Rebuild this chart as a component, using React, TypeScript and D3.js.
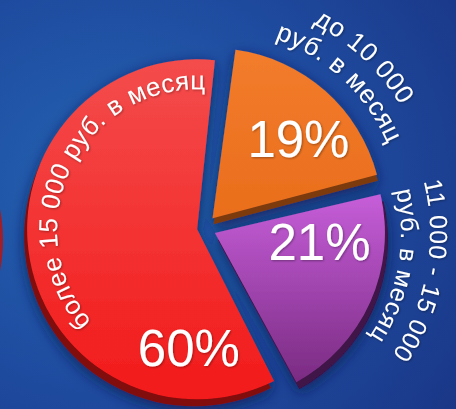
import React from 'react';
import * as d3 from 'd3';

// ---- data ----
const categories = ['до 10 000 руб. в месяц', '11 000 - 15 000 руб. в месяц', 'более 15 000 руб. в месяц'];
const values = [19, 21, 60];
const labelLine1 = ['до 10 000', '11 000 - 15 000', 'более 15 000 руб. в месяц'];
const labelLine2 = ['руб. в месяц', 'руб. в месяц', ''];
const percentLabels = ['19%', '21%', '60%'];

// ---- layout / style ----
const W = 456;
const H = 409;
const CX = 204;
const CY = 228;
const R = 170;
const explode = [13, 12, 7];
const topColors = ['#f27c2c', '#c65ed9', '#f44c4c'];
const bottomColors = ['#ea6e1c', '#7a2b82', '#f31a1a'];
const sideColors = ['#7d3a10', '#3f1248', '#820a0e'];
const sideShift: [number, number][] = [[1, 6], [3, 7], [-3, 7]];
// curved label: baseline radii of line 1 & 2, angle shift, anchor
const labelR1 = [219, 215, 140];
const labelR2 = [190, 186, 0];
const labelShift = [0.03, -0.24, -0.03];
const labelAnchor = ['middle', 'middle', 'end'];
const labelFont = [26, 25, 26];
const labelSpacing = [0.6, 0.6, 0.4];
// percent labels (polar from slice centre)
const pctAngleShift = [0.1, -0.33, 0];
const pctRadius = [117, 105, 119];
const pctAbs = [null, null, Math.PI * 184 / 180];

const FONT = '"Liberation Sans", Arial, sans-serif';

function polar(cx: number, cy: number, r: number, a: number): [number, number] {
  return [cx + r * Math.sin(a), cy - r * Math.cos(a)];
}

function arcPath(cx: number, cy: number, r: number, a0: number, a1: number) {
  const [x0, y0] = polar(cx, cy, r, a0);
  const [x1, y1] = polar(cx, cy, r, a1);
  const large = a1 - a0 > Math.PI ? 1 : 0;
  return `M${x0},${y0} A${r},${r} 0 ${large} 1 ${x1},${y1}`;
}

export default function App() {
  const start = 0.12;
  const pie = d3
    .pie<number>()
    .sort(null)
    .value((d) => d)
    .startAngle(start)
    .endAngle(start + 2 * Math.PI)
    .padAngle(0.03);
  const arcs = pie(values);
  const arcGen = d3.arc<d3.PieArcDatum<number>>().innerRadius(0).outerRadius(R);

  const slices = arcs.map((a, i) => {
    const mid = (a.startAngle + a.endAngle) / 2;
    const [cx, cy] = polar(CX, CY, explode[i], mid);
    return { a, i, mid, cx, cy, d: arcGen(a) as string };
  });

  return (
    <svg
      width={W}
      height={H}
      viewBox={`0 0 ${W} ${H}`}
      style={{ position: 'absolute', left: 0, top: 0, display: 'block' }}
    >
      <defs>
        <radialGradient id="bg" cx="0.25" cy="0.45" r="0.95">
          <stop offset="0" stopColor="#2463b2" />
          <stop offset="0.55" stopColor="#1e4a9e" />
          <stop offset="1" stopColor="#1a3585" />
        </radialGradient>
        <radialGradient id="leftRed" cx="0.8" cy="0.5" r="0.6">
          <stop offset="0" stopColor="#b8242a" />
          <stop offset="1" stopColor="#6c1428" />
        </radialGradient>
        {slices.map((s) => (
          <linearGradient key={s.i} id={`g${s.i}`} x1="0" y1="0" x2="0" y2="1">
            <stop offset="0" stopColor={topColors[s.i]} />
            <stop offset="1" stopColor={bottomColors[s.i]} />
          </linearGradient>
        ))}
        <filter id="shadow" x="-30%" y="-30%" width="160%" height="160%">
          <feDropShadow dx="0" dy="4" stdDeviation="7" floodColor="#071a4a" floodOpacity="0.75" />
        </filter>
        <filter id="tshadow" x="-10%" y="-10%" width="120%" height="120%">
          <feDropShadow dx="1" dy="1" stdDeviation="0.8" floodColor="#000" floodOpacity="0.35" />
        </filter>
        {slices.map((s) => {
          const m = s.mid + labelShift[s.i];
          const anchorEnd = labelAnchor[s.i] === 'end';
          const a1 = anchorEnd ? s.a.endAngle - 0.06 : m + 1.4;
          const a0 = anchorEnd ? a1 - 3.0 : m - 1.4;
          return (
            <React.Fragment key={s.i}>
              <path id={`l1p${s.i}`} d={arcPath(s.cx, s.cy, labelR1[s.i], a0, a1)} fill="none" />
              {labelLine2[s.i] && (
                <path id={`l2p${s.i}`} d={arcPath(s.cx, s.cy, labelR2[s.i], a0, a1)} fill="none" />
              )}
            </React.Fragment>
          );
        })}
      </defs>

      <rect x={0} y={0} width={W} height={H} fill="url(#bg)" />
      <ellipse cx={-58} cy={240} rx={61} ry={100} fill="url(#leftRed)" />

      <g filter="url(#shadow)">
        {slices.map((s) => (
          <path
            key={`side${s.i}`}
            d={s.d}
            transform={`translate(${s.cx + sideShift[s.i][0]},${s.cy + sideShift[s.i][1]})`}
            fill={sideColors[s.i]}
          />
        ))}
        {slices.map((s) => (
          <path
            key={`top${s.i}`}
            d={s.d}
            transform={`translate(${s.cx},${s.cy})`}
            fill={`url(#g${s.i})`}
          >
            <title>{`${categories[s.i]}: ${values[s.i]}%`}</title>
          </path>
        ))}
      </g>

      <g fill="#ffffff" fontFamily={FONT} filter="url(#tshadow)">
        {slices.map((s) => {
          const anchorEnd = labelAnchor[s.i] === 'end';
          return (
            <React.Fragment key={`lbl${s.i}`}>
              <text
                fontSize={labelFont[s.i]}
                letterSpacing={labelSpacing[s.i]}
                textAnchor={anchorEnd ? 'end' : 'middle'}
              >
                <textPath href={`#l1p${s.i}`} startOffset={anchorEnd ? '100%' : '50%'}>
                  {labelLine1[s.i]}
                </textPath>
              </text>
              {labelLine2[s.i] && (
                <text fontSize={labelFont[s.i]} letterSpacing={labelSpacing[s.i]} textAnchor="middle">
                  <textPath href={`#l2p${s.i}`} startOffset="50%">
                    {labelLine2[s.i]}
                  </textPath>
                </text>
              )}
            </React.Fragment>
          );
        })}
        {slices.map((s) => {
          const ang = pctAbs[s.i] != null ? (pctAbs[s.i] as number) : s.mid + pctAngleShift[s.i];
          const [x, y] = polar(s.cx, s.cy, pctRadius[s.i], ang);
          return (
            <text
              key={`pct${s.i}`}
              x={x}
              y={y + 18}
              fontSize={51}
              textAnchor="middle"
            >
              {percentLabels[s.i]}
            </text>
          );
        })}
      </g>
    </svg>
  );
}
